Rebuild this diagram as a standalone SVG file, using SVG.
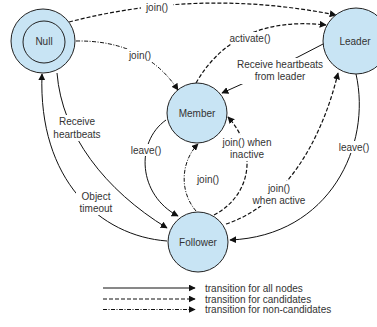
<svg xmlns="http://www.w3.org/2000/svg" width="377" height="327" viewBox="0 0 377 327">
<style>
.node{fill:#c8e4f4;stroke:#222;stroke-width:1}
.nl{font-family:"Liberation Sans",Arial,sans-serif;font-size:10px;fill:#333;text-anchor:middle}
.el{font-family:"Liberation Sans",Arial,sans-serif;font-size:10px;fill:#333;text-anchor:middle}
.lg{font-family:"Liberation Sans",Arial,sans-serif;font-size:10px;fill:#333}
.c{fill:none;stroke:#111;stroke-width:1}
.s{marker-end:url(#ah)}
.d{stroke-dasharray:4,2;stroke-width:1.2;marker-end:url(#ah)}
.dd{stroke-dasharray:4,1.5,1,1.5;marker-end:url(#ah)}
.bg{fill:#fff}
</style>
<defs>
<marker id="ah" viewBox="0 0 10 10" refX="9" refY="5" markerWidth="7" markerHeight="7" markerUnits="userSpaceOnUse" orient="auto">
<path d="M0,0 L10,5 L0,10 z" fill="#111"/>
</marker>
</defs>
<rect width="377" height="327" fill="#fff"/>
<g id="connectors">
<path class="c d" d="M69,22 Q200,-12 336,15"/>
<path class="c dd" d="M76,41 Q145,40 178,90"/>
<path class="c d" d="M196,83 Q235,15 326,25"/>
<path class="c s" d="M325,43 Q270,72 222,93"/>
<path class="c s" d="M57,73 C62,135 105,190 167,228"/>
<path class="c s" d="M167,241 C100,236 38,180 42,74"/>
<path class="c s" d="M166,120 C135,142 138,195 178,216"/>
<path class="c dd" d="M196,211 C178,190 182,160 198,144"/>
<path class="c d" d="M214,215 C252,195 258,150 228,117"/>
<path class="c d" d="M226,224 C285,205 322,140 338,73"/>
<path class="c s" d="M356,74 C372,145 330,236 230,240"/>
</g>
<g id="labels">
<rect class="bg" x="141" y="1" width="32" height="12"/>
<text class="el" x="157" y="11">join()</text>
<rect class="bg" x="125" y="49" width="30" height="13"/>
<text class="el" x="140" y="59">join()</text>
<rect class="bg" x="227" y="32" width="46" height="12"/>
<text class="el" x="250" y="42">activate()</text>
<rect class="bg" x="234" y="58" width="92" height="26"/>
<text class="el" x="280" y="68">Receive heartbeats</text>
<text class="el" x="280" y="80">from leader</text>
<rect class="bg" x="52" y="115" width="50" height="26"/>
<text class="el" x="77" y="125">Receive</text>
<text class="el" x="77" y="138">heartbeats</text>
<rect class="bg" x="76" y="189" width="40" height="26"/>
<text class="el" x="96" y="200">Object</text>
<text class="el" x="96" y="212">timeout</text>
<rect class="bg" x="129" y="144" width="34" height="12"/>
<text class="el" x="146" y="154">leave()</text>
<text class="el" x="208" y="183">join()</text>
<rect class="bg" x="221" y="135" width="52" height="26"/>
<text class="el" x="247" y="146">join() when</text>
<text class="el" x="247" y="158">inactive</text>
<rect class="bg" x="251" y="181" width="56" height="25"/>
<text class="el" x="279" y="192">join()</text>
<text class="el" x="279" y="204">when active</text>
<rect class="bg" x="337" y="141" width="34" height="12"/>
<text class="el" x="354" y="151">leave()</text>
</g>
<g id="null">
<circle class="node" cx="43" cy="41" r="32"/>
<circle cx="44" cy="42" r="21" fill="none" stroke="#222"/>
<text class="nl" x="44" y="45">Null</text>
</g>
<g id="leader">
<circle class="node" cx="356" cy="41" r="33"/>
<text class="nl" x="355" y="45">Leader</text>
</g>
<g id="member">
<circle class="node" cx="197" cy="113" r="30"/>
<text class="nl" x="197" y="117">Member</text>
</g>
<g id="follower">
<circle class="node" cx="198" cy="242" r="30"/>
<text class="nl" x="198" y="246">Follower</text>
</g>
<g id="legend">
<path class="c s" d="M103,288 L195,288"/>
<path class="c d" d="M103,299 L195,299"/>
<path class="c dd" d="M103,309.5 L195,309.5"/>
<text class="lg" x="205" y="291.5">transition for all nodes</text>
<text class="lg" x="205" y="302.5">transition for candidates</text>
<text class="lg" x="205" y="313">transition for non-candidates</text>
</g>
</svg>
